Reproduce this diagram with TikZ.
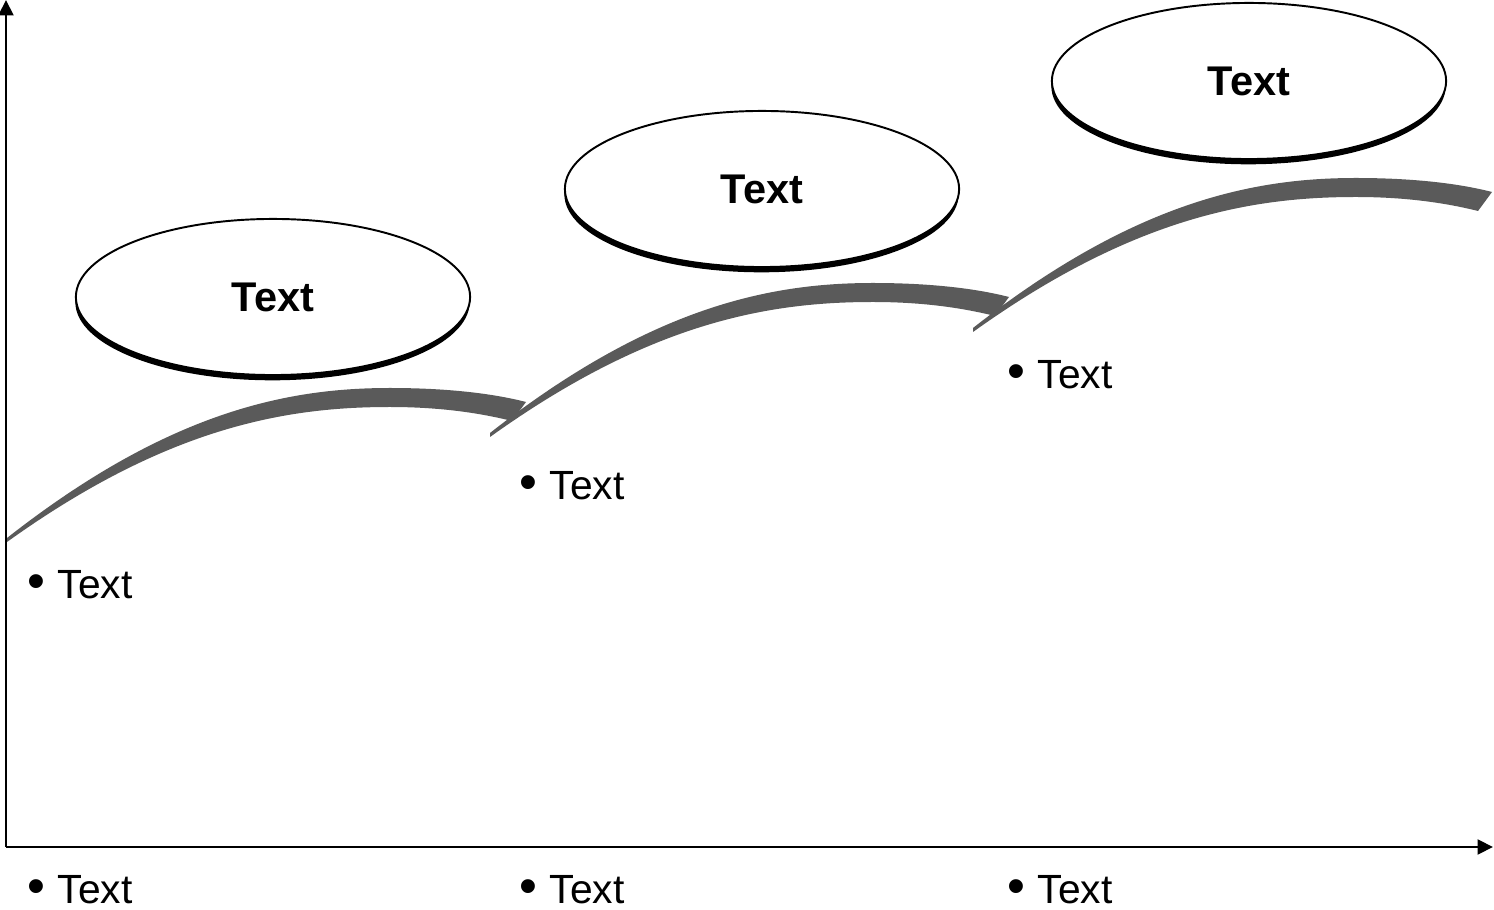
\documentclass[tikz,border=0pt]{standalone}
\usepackage{fontspec}
\setmainfont{Liberation Sans}
\usetikzlibrary{arrows.meta,shapes.geometric,shadows}
\definecolor{ribbongray}{HTML}{5A5A5A}
\newcommand\bigdot{{\fontsize{14.5pt}{14pt}\selectfont •}}
\begin{document}
\begin{tikzpicture}[x=0.01cm,y=-0.01cm,
  axis/.style={line width=0.85pt,-{Triangle[length=4.4pt,width=4.2pt]}},
  bubble/.style={ellipse,draw=black,line width=0.55pt,fill=white,
    minimum width=3.94cm,minimum height=1.56cm,inner sep=0pt,
    font=\fontsize{11.8pt}{13pt}\selectfont\bfseries,
    general shadow={fill=black,shadow yshift=-1.5pt,shadow xshift=-0.15pt}},
  bullettext/.style={anchor=base west,inner sep=0pt,
    font=\fontsize{11.6pt}{13pt}\selectfont},
  ribbon/.pic={
    \fill[ribbongray] (7,538) .. controls (170,410) and (290,388) .. (390,388)
      .. controls (450,388) and (495,394) .. (526,402) -- (512,421)
      .. controls (480,413) and (440,407) .. (390,407)
      .. controls (290,407) and (170,425) .. (7,542) -- cycle;
  }]
\useasboundingbox (0,0) rectangle (1494,910);
% axes
\coordinate (ytop) at (6,0);
\coordinate (origin) at (6,847);
\coordinate (xend) at (1493,847);
\draw[axis] (origin) -- (ytop);
\draw[axis] (origin) -- (xend);
% ribbons
\pic at (0,0) {ribbon};
\pic at (483,-105) {ribbon};
\pic at (966,-210) {ribbon};
% ellipses
\node[bubble] (e1) at (273,297) {Text};
\node[bubble] (e2) at (762,189) {Text};
\node[bubble] (e3) at (1249,81) {Text};
% bullet texts
\node[bullettext] (b1) at (27,599) {\bigdot\hspace{0.3em}Text};
\node[bullettext] (b2) at (519,500) {\bigdot\hspace{0.3em}Text};
\node[bullettext] (b3) at (1007,389) {\bigdot\hspace{0.3em}Text};
\node[bullettext] (c1) at (27,903) {\bigdot\hspace{0.3em}Text};
\node[bullettext] (c2) at (519,903) {\bigdot\hspace{0.3em}Text};
\node[bullettext] (c3) at (1007,903) {\bigdot\hspace{0.3em}Text};
\end{tikzpicture}
\end{document}
